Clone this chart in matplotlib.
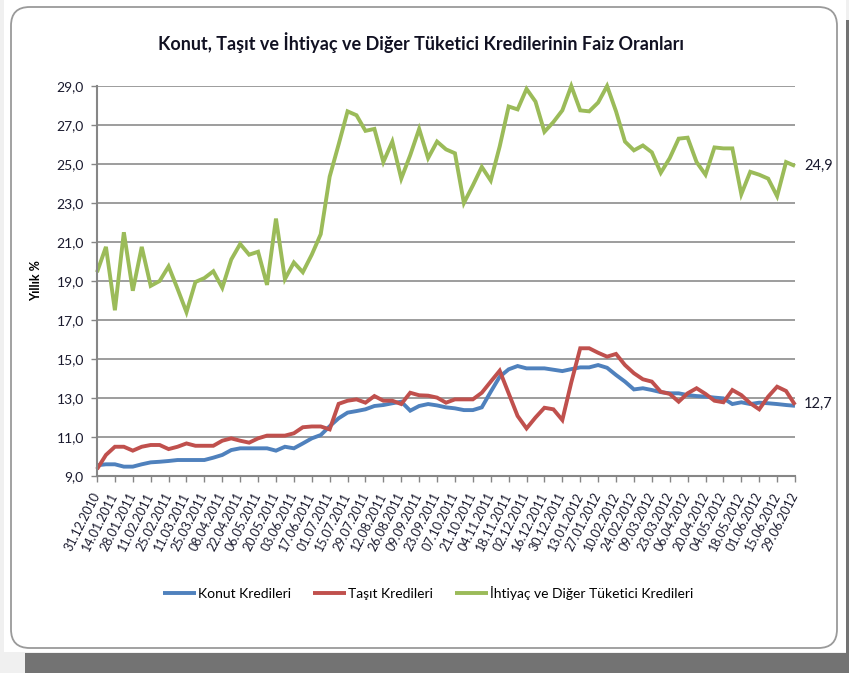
import matplotlib
matplotlib.use("Agg")
import matplotlib.pyplot as plt
from matplotlib.patches import FancyBboxPatch, Rectangle
import numpy as np

plt.rcParams['font.family'] = ['Lato', 'DejaVu Sans']

title = "Konut, Taşıt ve İhtiyaç ve Diğer Tüketici Kredilerinin Faiz Oranları"
series_names = ["Konut Kredileri", "Taşıt Kredileri", "İhtiyaç ve Diğer Tüketici Kredileri"]
colors = ["#4F81BD", "#C0504D", "#9BBB59"]

tick_labels = ["31.12.2010", "14.01.2011", "28.01.2011", "11.02.2011", "25.02.2011",
               "11.03.2011", "25.03.2011", "08.04.2011", "22.04.2011", "06.05.2011",
               "20.05.2011", "03.06.2011", "17.06.2011", "01.07.2011", "15.07.2011",
               "29.07.2011", "12.08.2011", "26.08.2011", "09.09.2011", "23.09.2011",
               "07.10.2011", "21.10.2011", "04.11.2011", "18.11.2011", "02.12.2011",
               "16.12.2011", "30.12.2011", "13.01.2012", "27.01.2012", "10.02.2012",
               "24.02.2012", "09.03.2012", "23.03.2012", "06.04.2012", "20.04.2012",
               "04.05.2012", "18.05.2012", "01.06.2012", "15.06.2012", "29.06.2012"]

konut = [9.55, 9.6, 9.6, 9.48, 9.48, 9.6, 9.7, 9.73, 9.77, 9.82,
         9.82, 9.82, 9.82, 9.94, 10.08, 10.33, 10.42, 10.42, 10.42, 10.42,
         10.3, 10.5, 10.42, 10.67, 10.93, 11.1, 11.55, 11.96, 12.25, 12.33,
         12.42, 12.59, 12.64, 12.73, 12.81, 12.35, 12.59, 12.69, 12.62, 12.52,
         12.47, 12.38, 12.38, 12.52, 13.32, 14.09, 14.47, 14.64, 14.52, 14.52,
         14.52, 14.45, 14.38, 14.48, 14.57, 14.57, 14.69, 14.55, 14.18, 13.84,
         13.44, 13.5, 13.41, 13.3, 13.24, 13.24, 13.15, 13.1, 13.07, 13.02,
         12.98, 12.69, 12.78, 12.69, 12.76, 12.73, 12.69, 12.64, 12.6]

tasit = [9.35, 10.08, 10.5, 10.5, 10.3, 10.5, 10.59, 10.59, 10.38, 10.5,
         10.67, 10.55, 10.55, 10.55, 10.81, 10.93, 10.81, 10.71, 10.93, 11.07,
         11.07, 11.07, 11.19, 11.5, 11.54, 11.54, 11.39, 12.7, 12.86, 12.93,
         12.76, 13.1, 12.86, 12.86, 12.69, 13.27, 13.14, 13.12, 13.02, 12.76,
         12.93, 12.93, 12.93, 13.27, 13.84, 14.4, 13.24, 12.08, 11.44, 12.0,
         12.5, 12.42, 11.87, 13.8, 15.55, 15.55, 15.32, 15.12, 15.26, 14.69,
         14.27, 13.96, 13.84, 13.32, 13.21, 12.81, 13.24, 13.5, 13.21, 12.86,
         12.78, 13.41, 13.15, 12.73, 12.42, 13.07, 13.58, 13.36, 12.65]

ihtiyac = [19.45, 20.75, 17.5, 21.5, 18.5, 20.75, 18.75, 19.0, 19.75, 18.6,
           17.4, 18.95, 19.15, 19.5, 18.65, 20.1, 20.9, 20.35, 20.5, 18.8,
           22.2, 19.1, 19.95, 19.45, 20.35, 21.4, 24.35, 26.0, 27.7, 27.5,
           26.7, 26.8, 25.1, 26.15, 24.25, 25.45, 26.8, 25.3, 26.15, 25.75,
           25.55, 23.0, 23.9, 24.85, 24.15, 25.9, 27.95, 27.8, 28.85, 28.2,
           26.65, 27.15, 27.75, 29.0, 27.75, 27.7, 28.15, 29.0, 27.7, 26.15,
           25.7, 25.95, 25.6, 24.55, 25.3, 26.3, 26.35, 25.1, 24.45, 25.85,
           25.8, 25.8, 23.45, 24.6, 24.45, 24.25, 23.35, 25.1, 24.9]

end_labels = ["24,9", "12,7"]
yticks = [9, 11, 13, 15, 17, 19, 21, 23, 25, 27, 29]

W, H = 849, 673
fig = plt.figure(figsize=(W / 100, H / 100), dpi=100)
fig.patch.set_facecolor("#f0f0f0")

def fx(px):
    return px / W

def fy(py):
    return 1 - py / H

# background pieces (drawn below the axes)
fig.add_artist(Rectangle((fx(4), fy(652)), fx(842), 652 / H, transform=fig.transFigure,
                         facecolor="white", edgecolor="none", zorder=-3))
fig.add_artist(Rectangle((fx(25), 0), 1 - fx(25), 20 / H, transform=fig.transFigure,
                         facecolor="#737373", edgecolor="none", zorder=-3))
fig.add_artist(Rectangle((fx(846), 0), fx(3), fy(20), transform=fig.transFigure,
                         facecolor="#737373", edgecolor="none", zorder=-3))
fig.add_artist(FancyBboxPatch((fx(11), fy(648)), fx(826), 641 / H,
                              boxstyle="round,pad=0,rounding_size=0.022",
                              transform=fig.transFigure, facecolor="white",
                              edgecolor="#9a9a9a", linewidth=1.3, zorder=-2,
                              mutation_aspect=W / H))

ax = fig.add_axes([fx(97), fy(476), fx(795) - fx(97), (476 - 86) / H])
ax.set_zorder(2)
ax.set_facecolor("none")
x = np.arange(len(konut))
for vals, name, c in zip([konut, tasit, ihtiyac], series_names, colors):
    ax.plot(x, vals, color=c, linewidth=2.8, label=name, solid_capstyle="butt",
            solid_joinstyle="miter", clip_on=False)

ax.set_xlim(0, len(konut) - 1)
ax.set_ylim(9, 29)
ax.set_yticks(yticks)
ax.set_yticklabels([f"{v:.1f}".replace(".", ",") for v in yticks], fontsize=10, color="#1a1a2e")
ax.yaxis.grid(True, color="#8c8c8c", linewidth=1.2)
ax.set_axisbelow(True)
ax.set_xticks(x[::2])
ax.set_xticklabels(tick_labels, rotation=63, ha="right", va="center",
                   rotation_mode="anchor", fontsize=9, color="#1a1a2e")
ax.tick_params(axis="both", direction="out", length=4.5, width=1, color="#868686")
ax.tick_params(axis="x", pad=8)
ax.tick_params(axis="y", pad=5)
for s in ["top", "right"]:
    ax.spines[s].set_visible(False)
for s in ["left", "bottom"]:
    ax.spines[s].set_color("#868686")
    ax.spines[s].set_linewidth(1.5)

ax.set_ylabel("Yıllık %", fontsize=9, fontweight="bold", labelpad=10)

ax.text(len(ihtiyac) - 1 + 1.0, ihtiyac[-1], end_labels[0], fontsize=10.5,
        va="center", ha="left", color="#1a1a2e", clip_on=False)
ax.text(len(tasit) - 1 + 1.0, 12.7, end_labels[1], fontsize=10.5,
        va="center", ha="left", color="#1a1a2e", clip_on=False)

fig.text(fx(421), fy(43), title, fontsize=13, fontweight="bold", ha="center",
         va="center", color="#111122")

fig.legend(loc="center", bbox_to_anchor=(fx(428), fy(593)), ncol=3, frameon=False,
           fontsize=10, handlelength=2.4, handletextpad=0.1, columnspacing=1.6)

fig.savefig("out.png", dpi=100, facecolor=fig.get_facecolor())
